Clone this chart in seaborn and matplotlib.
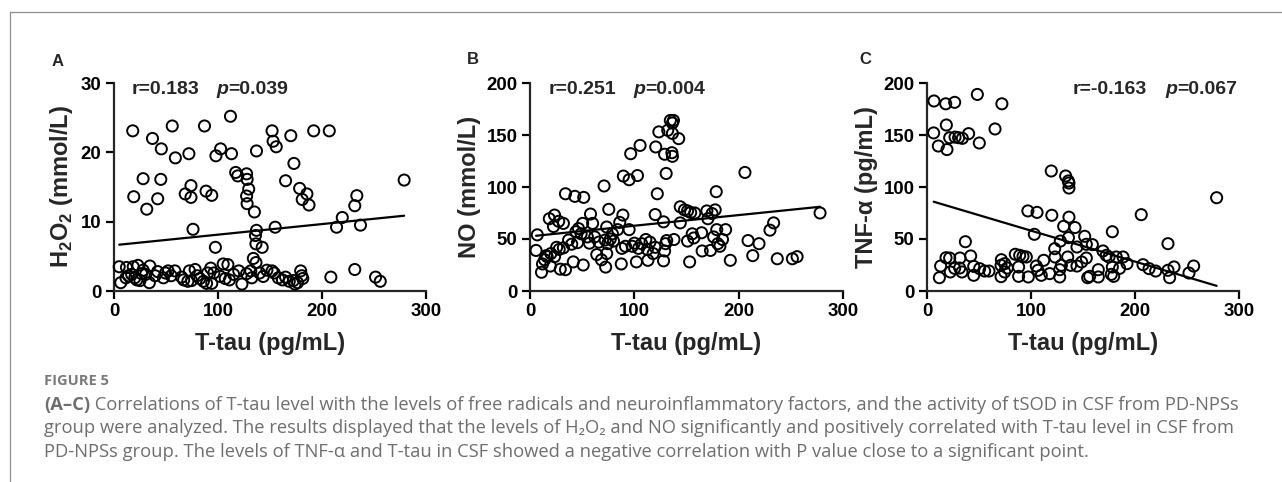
import numpy as np
import pandas as pd
import matplotlib
matplotlib.use('Agg')
import matplotlib.pyplot as plt
from matplotlib.lines import Line2D
import seaborn as sns

# data (T-tau in pg/mL)
a_tau = [18, 56, 87, 112, 37, 45.5, 59, 72, 98, 102.5, 113, 137, 152, 153, 156, 170, 173, 192, 207,
         28, 45, 19, 31.5, 42, 68.5, 74, 74, 76, 88.5, 94, 97.5, 117, 119, 127.5, 128, 129.5, 127.5, 128,
         135, 137, 136, 136.5, 142.5, 134, 136.5, 155, 165, 178.5, 185.5, 181, 187.5, 219.5, 214, 231.5,
         233.5, 237, 279,
         5, 6.5, 12, 11.5, 18.5, 23, 17, 22, 26.5, 30.5, 34.5, 34, 39.5, 47.5, 49.5, 52, 58.5, 65, 72.5,
         74.5, 78, 71, 82.5, 86, 90, 93, 94, 89, 102, 105, 109.5, 107, 111, 120, 123, 127.5, 131.5, 132.5,
         143.5, 147, 152, 154, 158, 165, 168.5, 172.5, 174, 176.5, 179.5, 180.5, 181.5, 208.5, 231.5,
         251.5, 256, 14, 20, 25, 28, 42, 55, 67, 80, 96, 115, 140, 162]
a_h2o2 = [23.1, 23.8, 23.8, 25.2, 22.0, 20.5, 19.2, 19.8, 19.5, 20.5, 19.8, 20.2, 23.1, 21.6, 20.8, 22.4,
          18.4, 23.1, 23.1,
          16.2, 16.1, 13.6, 11.8, 13.3, 14.0, 15.2, 13.5, 8.9, 14.4, 13.8, 6.3, 17.1, 16.6, 16.9, 16.1,
          14.7, 13.7, 12.6, 11.4, 8.75, 8.0, 6.8, 6.3, 4.7, 4.1, 9.2, 15.9, 14.8, 14.0, 13.2, 12.4, 10.6,
          9.2, 12.3, 13.75, 9.5, 16.0,
          3.5, 1.2, 3.4, 1.9, 3.5, 3.7, 2.4, 1.6, 2.5, 2.4, 3.6, 1.2, 2.2, 1.9, 2.6, 2.9, 2.9, 2.0, 2.9,
          1.5, 3.1, 1.4, 1.8, 1.4, 2.6, 3.3, 1.1, 1.1, 2.1, 3.9, 3.8, 1.8, 1.6, 2.9, 1.0, 2.5, 2.9, 1.9,
          2.1, 3.0, 2.9, 2.6, 1.9, 2.0, 1.4, 1.5, 1.0, 1.2, 2.9, 2.2, 1.8, 2.0, 3.1, 2.0, 1.4,
          2.2, 1.9, 1.5, 3.0, 2.8, 2.2, 1.6, 2.2, 2.6, 2.4, 2.6, 1.6]

b_tau = [7, 5.8, 11, 12, 15.5, 18.5, 23.5, 22.5, 27.5, 32, 25.5, 23.5, 19.5, 16.5, 29, 34, 32, 37, 34, 43,
         51.5, 41.5, 51, 45.5, 49, 46.5, 50.5, 58, 60, 57, 71, 75.5, 64, 68.5, 72.5, 73.5, 74.5, 77, 72, 79,
         73.5, 84, 86, 89, 89.5, 95, 103, 96.5, 105.5, 87.5, 88, 91.5, 95, 98, 102, 104, 107, 111, 112.5, 113,
         118, 120, 122, 120.5, 123.5, 128, 128, 129, 130, 131, 130.5, 129, 132, 134.5, 137.5, 136.5, 136.5,
         136, 136.5, 142.5, 138, 144, 144, 148, 151, 154, 158, 151, 153, 155.5, 157, 164.5, 165, 169.5,
         170.5, 173, 174.5, 177.5, 178.5, 176, 179, 180, 182, 184.5, 187.5, 192, 206, 209, 213.5, 219.5,
         230, 233.5, 237, 251.5, 256, 278,
         14, 20, 28, 40, 44, 55, 62, 66, 80, 100, 115, 120]
b_no = [54, 39, 18, 26, 34, 69.5, 73, 62, 67, 65, 42, 33, 24, 33, 21, 20.5, 41.5, 49, 93.5, 91,
        90, 28, 25, 46.5, 55, 60, 65, 74, 65, 46, 101, 78.5, 35, 30, 23, 36, 45.5, 50, 49, 55,
        61.5, 59, 66, 73, 110.5, 107, 111, 132, 140, 26, 41, 43, 59, 43, 28, 41, 45.5, 49.5, 40, 29.5,
        36, 73.5, 93.5, 138.5, 153, 66.5, 29, 38.5, 45.5, 48.5, 113, 131.5, 154.5, 164, 164, 161.5, 151.5,
        133, 129.5, 146.5, 49.5, 65.5, 81, 78, 77, 75.5, 75, 48, 28, 55, 51, 56, 38.5, 77, 69.5,
        39, 74.5, 78, 95.5, 52, 59, 45.5, 43, 49.5, 59, 29.5, 114, 48.5, 34, 45.5,
        58.5, 65.5, 31, 31, 33, 75,
        30, 36, 40, 45, 57, 52, 52, 47, 48, 46, 47, 42]

c_tau = [6.7, 18, 26.6, 48.4, 72, 6.4, 10.9, 18.6, 19.2, 21.8, 27, 30.4, 34, 40, 50.3, 65.4,
         119.5, 133.3, 135.9, 136.5, 136.5, 97, 105.8, 120, 136.5, 142.3, 131.4, 103.2, 128.2, 136, 151.6,
         153.2, 159, 144.2, 206, 178.2, 231.7, 278.5, 36.9,
         11.9, 13.1, 18.3, 21.8, 22.4, 26.6, 31.7, 33.6, 31.4, 42, 44.9, 44.9, 50.6, 55.4, 59.6, 71.5, 71.2,
         71.2, 74.7, 77.2, 74.7, 84.9, 89.1, 92.3, 95.5, 88.1, 88.1, 97.4, 105.1, 106.7, 109.9, 112.2, 118,
         123.1, 122.8, 127.6, 129.2, 127.6, 135.3, 138.1, 144.2, 148.7, 153.2, 154.5, 156.4, 164.7, 164.7,
         169.2, 172.4, 175, 178.2, 179.5, 177.2, 182, 185.2, 188.5, 192.3, 207.7, 213.5, 219.9, 231.7,
         233.3, 237.5, 251.9, 256.4]
c_tnf = [182.7, 180, 181.4, 189, 180, 152, 139.4, 159.6, 136, 147.4, 148, 147.4, 146.8, 151.3, 142.3, 155.8,
         115.4, 110.6, 105.8, 103.8, 99, 77, 75.6, 72.8, 71, 61, 62.2, 54.5, 48, 51.3, 52.6,
         44.9, 44.6, 42.3, 73.4, 57, 45.5, 89.7, 47.4,
         12.8, 24, 32, 31.7, 18.3, 21.8, 31.7, 18.3, 22.1, 33.7, 23.7, 15.1, 21.5, 19.2, 19.2, 30.1, 24.7,
         13.8, 26.3, 22.1, 18.3, 35.3, 34.3, 33.3, 32.7, 23.1, 14.1, 13.5, 24, 19.9, 15.1, 29.5, 16.7,
         32.7, 40.7, 20.5, 24.7, 13.5, 32.7, 24.7, 24, 27.9, 31.7, 12.8, 14.1, 20.5, 13.5,
         38.5, 34.3, 32.7, 23.1, 14.1, 16, 32.7, 21.8, 32.7, 26.3, 25.3, 21.5, 19.2, 19.9,
         12.8, 23.1, 17.3, 24]

panel_letters = ['A', 'B', 'C']
y_labels = [r'$\mathbf{H}_\mathbf{2}\mathbf{O}_\mathbf{2}$ (mmol/L)', 'NO (mmol/L)', 'TNF-α (pg/mL)']
y_limits = [30, 200, 200]
y_ticks = [[0, 10, 20, 30], [0, 50, 100, 150, 200], [0, 50, 100, 150, 200]]
r_texts = ['r=0.183', 'r=0.251', 'r=-0.163']
p_texts = ['=0.039', '=0.004', '=0.067']
x_ticks = [0, 100, 200, 300]

caption_lines = [
    'Correlations of T-tau level with the levels of free radicals and neuroinflammatory factors, '
    'and the activity of tSOD in CSF from PD-NPSs',
    'group were analyzed. The results displayed that the levels of H₂O₂ and NO significantly and '
    'positively correlated with T-tau level in CSF from',
    'PD-NPSs group. The levels of TNF-α and T-tau in CSF showed a negative correlation with P value '
    'close to a significant point.',
]

sns.set_style('ticks')
plt.rcParams['font.family'] = ['Liberation Sans', 'DejaVu Sans']
plt.rcParams['mathtext.fontset'] = 'custom'
plt.rcParams['mathtext.rm'] = 'Liberation Sans'
plt.rcParams['mathtext.bf'] = 'Liberation Sans:bold'

W, H = 1282, 482
fig = plt.figure(figsize=(W / 100, H / 100), dpi=100)


def box(l, t, r, b):
    return [l / W, 1 - b / H, (r - l) / W, (b - t) / H]


axes_px = [(114, 83, 426, 291), (530, 83, 843, 291), (927, 83, 1239, 291)]
letter_px = [(58, 62), (473, 60), (865, 60)]
r_pos = [0.058, 0.058, 0.468]
p_pos = [0.329, 0.329, 0.763]

panels = [(a_tau, a_h2o2), (b_tau, b_no), (c_tau, c_tnf)]

for i, (tau, val) in enumerate(panels):
    ax = fig.add_axes(box(*axes_px[i]))
    df = pd.DataFrame({'tau': tau, 'val': val})
    sns.scatterplot(data=df, x='tau', y='val', ax=ax, marker='o', s=64,
                    facecolors='none', edgecolor='black', linewidth=1.4,
                    color='black', clip_on=False, zorder=3)
    sns.regplot(data=df, x='tau', y='val', ax=ax, scatter=False, ci=None,
                color='black', line_kws={'linewidth': 1.6})
    ax.set_xlim(0, 300)
    ax.set_ylim(0, y_limits[i])
    ax.set_xticks(x_ticks)
    ax.set_yticks(y_ticks[i])
    sns.despine(ax=ax)
    for sp in ['left', 'bottom']:
        ax.spines[sp].set_linewidth(1.6)
    ax.tick_params(width=1.6, length=6, labelsize=13.4, pad=3, colors='black')
    for lbl in ax.get_xticklabels() + ax.get_yticklabels():
        lbl.set_fontweight('bold')
    ax.set_xlabel('T-tau (pg/mL)', fontsize=17, fontweight='bold', labelpad=8)
    ax.set_ylabel(y_labels[i], fontsize=17, fontweight='bold', labelpad=4)

    ax.text(r_pos[i], 1.01, r_texts[i], transform=ax.transAxes, fontsize=14,
            fontweight='bold', va='top', ha='left')
    pt = ax.text(p_pos[i], 1.01, 'p', transform=ax.transAxes, fontsize=14,
                 fontweight='bold', fontstyle='italic', va='top', ha='left')
    ax.annotate(p_texts[i], xy=(1, 0), xycoords=pt, fontsize=14, fontweight='bold',
                va='bottom', ha='left')

    fig.text(letter_px[i][0] / W, 1 - letter_px[i][1] / H, panel_letters[i],
             fontsize=12, fontweight='bold', ha='center', va='center')

# frame lines of the page
grey = '#8f8f8f'
fig.add_artist(Line2D([10 / W, 10 / W], [0, 1 - 12 / H], color=grey, linewidth=0.9))
fig.add_artist(Line2D([10 / W, 1], [1 - 12 / H, 1 - 12 / H], color=grey, linewidth=0.9))

# caption
cap_font = ['Open Sans', 'DejaVu Sans']
cap_col = '#6e6e6e'
cap_size = 13.2
fig.text(44 / W, 1 - 381 / H, 'FIGURE 5', fontsize=10.5, fontweight='bold', color='#7a7a7a',
         family=cap_font, va='center', ha='left')
lead = fig.text(44 / W, 1 - 405 / H, '(A–C)', fontsize=cap_size, fontweight='bold', color=cap_col,
                family=cap_font, va='center', ha='left')
ax.annotate(' ' + caption_lines[0], xy=(1, 0), xycoords=lead, fontsize=cap_size, color=cap_col,
            family=cap_font, va='bottom', ha='left', annotation_clip=False)
fig.text(44 / W, 1 - 428 / H, caption_lines[1], fontsize=cap_size, color=cap_col,
         family=cap_font, va='center', ha='left')
fig.text(44 / W, 1 - 452 / H, caption_lines[2], fontsize=cap_size, color=cap_col,
         family=cap_font, va='center', ha='left')

fig.savefig('out.png', dpi=100)
